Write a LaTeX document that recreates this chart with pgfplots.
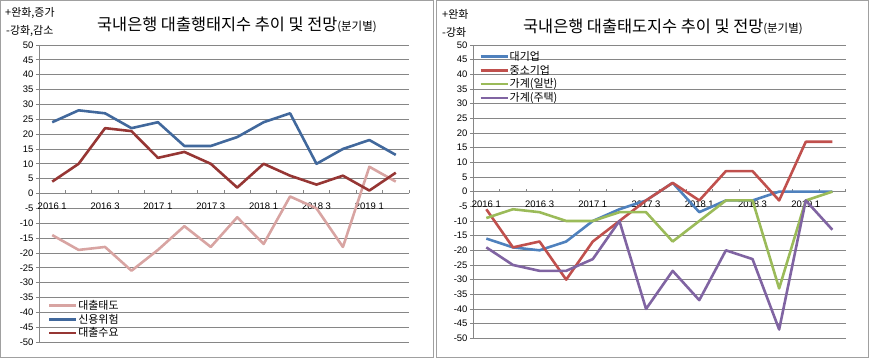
\documentclass[border=0pt]{standalone}
\usepackage{fontspec}
\setmainfont{Liberation Sans}
\newfontfamily\kr{Noto Sans CJK KR}
\usepackage{pgfplots}
\pgfplotsset{compat=1.18}
\definecolor{gridc}{HTML}{868686}
\definecolor{framec}{HTML}{A0A0A0}
\definecolor{lpink}{HTML}{D8A4A2}
\definecolor{lblue}{HTML}{41689C}
\definecolor{lred}{HTML}{963634}
\definecolor{rblue}{HTML}{4F81BD}
\definecolor{rred}{HTML}{C0504D}
\definecolor{rgreen}{HTML}{9BBB59}
\definecolor{rpurple}{HTML}{8064A2}
\pgfplotsset{
  mychart/.style={
    scale only axis,
    xmin=-0.5, xmax=13.5, ymin=-50, ymax=50,
    axis x line=middle, axis y line=left,
    axis line style={gridc,-, line width=0.8pt},
    hide obscured x ticks=false, hide obscured y ticks=false,
    ytick={-50,-45,...,50},
    yticklabels={-50,-45,-40,-35,-30,-25,-20,-15,-10,-5,0,5,10,15,20,25,30,35,40,45,50},
    ymajorgrids, grid style={gridc, line width=0.8pt},
    xtick={0,2,...,12},
    xticklabels={2016 1,2016 3,2017 1,2017 3,2018 1,2018 3,2019 1},
    major x tick style={draw=none},
    minor xtick={0.5,1.5,...,13.5},
    minor x tick style={gridc, line width=0.8pt, yshift=1.5bp},
    minor tick length=3bp,
    major tick length=3bp,
    y tick style={gridc, line width=0.8pt, xshift=-1.5bp},
    tick label style={font=\fontsize{9.5}{11}\selectfont, text=black},
    xticklabel style={yshift=-4bp},
    yticklabel style={xshift=-0.5bp},
    every axis plot/.append style={line width=2.6pt, no markers, line join=round},
    legend cell align=left,
    legend image code/.code={\draw[##1, line width=2.6pt] (0bp,0bp) -- (27bp,0bp);},
    legend style={draw=none, fill=none, inner sep=0pt, row sep=1.6bp,
      font=\kr\fontsize{11}{12}\selectfont,
      nodes={inner sep=0.8pt}},
  }
}
\begin{document}
\begin{tikzpicture}
\useasboundingbox (0bp,0bp) rectangle (869bp,358bp);
\draw[framec, line width=0.8pt] (0.5bp,0.6bp) rectangle (433bp,357.4bp);
\draw[framec, line width=0.8pt] (436.5bp,0.6bp) rectangle (868.4bp,357.4bp);
% left chart
\begin{axis}[mychart, at={(39bp,16bp)}, anchor=south west, width=370bp, height=297bp,
  legend style={at={(axis cs:-0.17,-35.6)}, anchor=north west}]
\addplot[lpink] coordinates {(0,-14)(1,-19)(2,-18)(3,-26)(4,-19)(5,-11)(6,-18)(7,-8)(8,-17)(9,-1)(10,-5)(11,-18)(12,9)(13,4)};
\addlegendentry{대출태도}
\addplot[lblue] coordinates {(0,24)(1,28)(2,27)(3,22)(4,24)(5,16)(6,16)(7,19)(8,24)(9,27)(10,10)(11,15)(12,18)(13,13)};
\addlegendentry{신용위험}
\addplot[lred] coordinates {(0,4)(1,10)(2,22)(3,21)(4,12)(5,14)(6,10)(7,2)(8,10)(9,6)(10,3)(11,6)(12,1)(13,7)};
\addlegendentry{대출수요}
\end{axis}
% right chart
\begin{axis}[mychart, at={(473bp,19.7bp)}, anchor=south west, width=372.7bp, height=293.3bp,
  legend style={at={(axis cs:-0.27,48.2)}, anchor=north west}]
\addplot[rblue] coordinates {(0,-16)(1,-19)(2,-20)(3,-17)(4,-10)(5,-6)(6,-3)(7,3)(8,-7)(9,-3)(10,-3)(11,0)(12,0)(13,0)};
\addlegendentry{대기업}
\addplot[rred] coordinates {(0,-6)(1,-19)(2,-17)(3,-30)(4,-17)(5,-10)(6,-3)(7,3)(8,-3)(9,7)(10,7)(11,-3)(12,17)(13,17)};
\addlegendentry{중소기업}
\addplot[rgreen] coordinates {(0,-9)(1,-6)(2,-7)(3,-10)(4,-10)(5,-7)(6,-7)(7,-17)(8,-10)(9,-3)(10,-3)(11,-33)(12,-3)(13,0)};
\addlegendentry{가계(일반)}
\addplot[rpurple] coordinates {(0,-19)(1,-25)(2,-27)(3,-27)(4,-23)(5,-10)(6,-40)(7,-27)(8,-37)(9,-20)(10,-23)(11,-47)(12,-3)(13,-13)};
\addlegendentry{가계(주택)}
\end{axis}
% titles and notes
\node[anchor=west, inner sep=0pt] at (97bp,333bp) {\kr\fontsize{16.4}{18}\selectfont 국내은행 대출행태지수 추이 및 전망{\fontsize{11.5}{12}\selectfont(분기별)}};
\node[anchor=west, inner sep=0pt] at (523bp,331bp) {\kr\fontsize{16.4}{18}\selectfont 국내은행 대출태도지수 추이 및 전망{\fontsize{11.5}{12}\selectfont(분기별)}};
\node[anchor=west, inner sep=0pt] at (5bp,345bp) {\kr\fontsize{11}{12}\selectfont +완화,증가};
\node[anchor=west, inner sep=0pt] at (6bp,327bp) {\kr\fontsize{11}{12}\selectfont -강화,감소};
\node[anchor=west, inner sep=0pt] at (442bp,344bp) {\kr\fontsize{11}{12}\selectfont +완화};
\node[anchor=west, inner sep=0pt] at (442bp,326bp) {\kr\fontsize{11}{12}\selectfont -강화};
\end{tikzpicture}
\end{document}
